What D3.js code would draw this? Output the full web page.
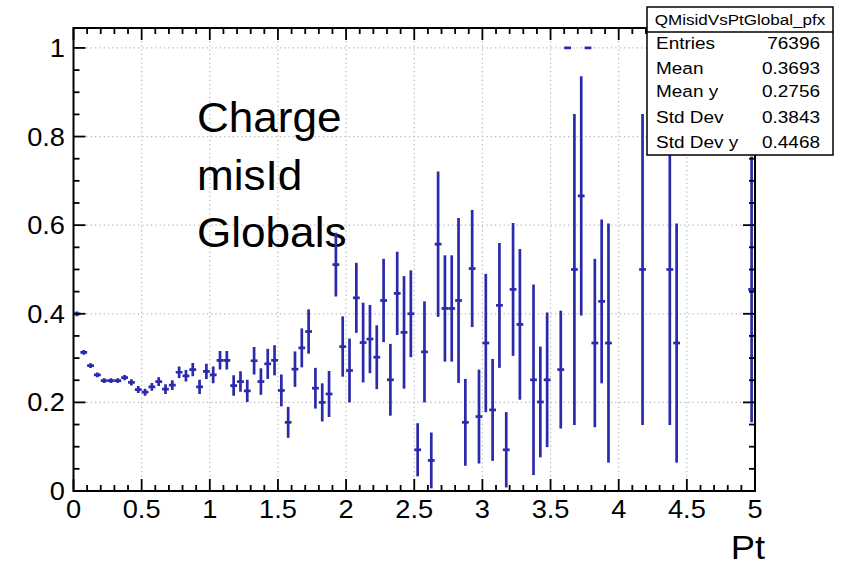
<!DOCTYPE html>
<html><head><meta charset="utf-8">
<script src="https://cdn.jsdelivr.net/npm/d3@7"></script>
<style>html,body{margin:0;padding:0;background:#fff;}svg{display:block;}</style>
</head><body>
<script>
// ---- data ----
const binCenters = [0.025,0.075,0.125,0.175,0.225,0.275,0.325,0.375,0.425,0.475,0.525,0.575,0.625,0.675,0.725,0.775,0.825,0.875,0.925,0.975,
1.025,1.075,1.125,1.175,1.225,1.275,1.325,1.375,1.425,1.475,1.525,1.575,1.625,1.675,1.725,1.775,1.825,1.875,1.925,1.975,
2.025,2.075,2.125,2.175,2.225,2.275,2.325,2.375,2.425,2.475,2.525,2.575,2.625,2.675,2.725,2.775,2.825,2.875,2.925,2.975,
3.025,3.075,3.125,3.175,3.225,3.275,3.375,3.425,3.475,3.575,3.625,3.675,3.725,3.775,3.825,3.875,3.925,4.175,4.375,4.425,4.975];
const meanValues = [0.400,0.313,0.283,0.262,0.249,0.249,0.249,0.256,0.245,0.229,0.223,0.235,0.247,0.230,0.239,0.268,0.260,0.274,0.235,0.270,
0.262,0.295,0.295,0.238,0.247,0.226,0.294,0.247,0.287,0.295,0.227,0.155,0.275,0.323,0.360,0.232,0.200,0.219,0.511,0.326,
0.272,0.436,0.335,0.343,0.302,0.430,0.251,0.446,0.358,0.400,0.093,0.314,0.069,0.557,0.412,0.412,0.430,0.155,0.502,0.168,
0.334,0.183,0.419,0.093,0.455,0.376,0.251,0.201,0.251,0.274,1.000,0.500,0.666,1.000,0.334,0.428,0.334,0.500,0.500,0.334,0.455];
const errValues = [0.003,0.004,0.004,0.005,0.005,0.005,0.005,0.006,0.007,0.008,0.008,0.009,0.010,0.011,0.011,0.013,0.013,0.015,0.016,0.017,
0.019,0.021,0.021,0.023,0.023,0.025,0.031,0.030,0.034,0.034,0.036,0.035,0.040,0.044,0.050,0.046,0.043,0.052,0.072,0.068,
0.072,0.079,0.090,0.077,0.072,0.094,0.081,0.094,0.127,0.098,0.060,0.114,0.063,0.164,0.120,0.120,0.186,0.098,0.132,0.106,
0.156,0.115,0.141,0.085,0.150,0.170,0.215,0.125,0.152,0.133,0,0.351,0.270,0,0.190,0.185,0.270,0.351,0.351,0.270,0.300];
const binHalfWidth = 0.025;
const xTickValues = [0,0.5,1,1.5,2,2.5,3,3.5,4,4.5,5];
const xTickLabels = ["0","0.5","1","1.5","2","2.5","3","3.5","4","4.5","5"];
const yTickValues = [0,0.2,0.4,0.6,0.8,1];
const yTickLabels = ["0","0.2","0.4","0.6","0.8","1"];
const xMinorStep = 0.1, yMinorStep = 0.05;
const statsTitle = "QMisidVsPtGlobal_pfx";
const statsNames = ["Entries","Mean","Mean y","Std Dev","Std Dev y"];
const statsVals = ["76396","0.3693","0.2756","0.3843","0.4468"];
const noteLines = ["Charge","misId","Globals"];
const xTitle = "Pt";

// ---- layout ----
const W = 843, H = 567;
const L = 73.5, R = 755, T = 28, B = 491;
const blue = "#2a2aaa";
const svg = d3.select("body").append("svg").attr("width", W).attr("height", H);
svg.append("rect").attr("width", W).attr("height", H).attr("fill", "#fff");

const x = d3.scaleLinear().domain([0,5]).range([L,R]);
const y = d3.scaleLinear().domain([0,1.045]).range([B,T]);

function txt(g, px, py, s, size, anchor, sx, family) {
  const gg = g.append("g").attr("transform", `translate(${px},${py}) scale(${sx},1)`);
  return gg.append("text").text(s).attr("font-family", family || "Liberation Sans, Arial, Helvetica, sans-serif")
    .attr("font-size", size).attr("text-anchor", anchor).attr("fill", "#000");
}

// grid
const grid = svg.append("g");
xTickValues.filter(v => v > 0 && v < 5).forEach(v => {
  grid.append("line").attr("x1", x(v)).attr("x2", x(v)).attr("y1", T).attr("y2", B)
    .attr("stroke", "#b8b8b8").attr("stroke-width", 1.2).attr("stroke-dasharray", "1.3,3");
});
yTickValues.filter(v => v > 0).forEach(v => {
  grid.append("line").attr("x1", L).attr("x2", R).attr("y1", y(v)).attr("y2", y(v))
    .attr("stroke", "#b8b8b8").attr("stroke-width", 1.2).attr("stroke-dasharray", "1.3,3");
});

// note text
const note = svg.append("g");
noteLines.forEach((s, i) => txt(note, 197, 132 + i * 57.5, s, 42, "start", 1.05, "Liberation Sans, Arial, sans-serif"));

// data
const clipId = "plotclip";
svg.append("clipPath").attr("id", clipId).append("rect").attr("x", L).attr("y", T).attr("width", R - L).attr("height", B - T);
const pts = svg.append("g").attr("clip-path", `url(#${clipId})`);
const data = binCenters.map((c, i) => ({c, m: meanValues[i], e: errValues[i]}));
pts.selectAll("line.v").data(data.filter(d => d.e > 0)).join("line").attr("class", "v")
  .attr("x1", d => x(d.c)).attr("x2", d => x(d.c))
  .attr("y1", d => Math.max(y(d.m - d.e), y(d.m) + 2.4)).attr("y2", d => Math.min(y(d.m + d.e), y(d.m) - 2.4))
  .attr("stroke", blue).attr("stroke-width", 2.7);
pts.selectAll("line.h").data(data).join("line").attr("class", "h")
  .attr("x1", d => x(d.c - binHalfWidth)).attr("x2", d => x(d.c + binHalfWidth))
  .attr("y1", d => y(d.m)).attr("y2", d => y(d.m))
  .attr("stroke", blue).attr("stroke-width", 2.7);

// frame + ticks
const ax = svg.append("g").attr("stroke", "#000");
ax.append("rect").attr("x", L).attr("y", T).attr("width", R - L).attr("height", B - T)
  .attr("fill", "none").attr("stroke-width", 2);
const xMinor = d3.range(0, 5 + 1e-9, xMinorStep);
xMinor.forEach(v => {
  const major = xTickValues.some(t => Math.abs(t - v) < 1e-6);
  const len = major ? 12 : 6;
  ax.append("line").attr("x1", x(v)).attr("x2", x(v)).attr("y1", B).attr("y2", B - len).attr("stroke-width", 1.8);
  ax.append("line").attr("x1", x(v)).attr("x2", x(v)).attr("y1", T).attr("y2", T + len).attr("stroke-width", 1.8);
});
const yMinor = d3.range(0, 1.045, yMinorStep);
yMinor.forEach(v => {
  const major = yTickValues.some(t => Math.abs(t - v) < 1e-6);
  const len = major ? 12 : 6;
  ax.append("line").attr("x1", L).attr("x2", L + len).attr("y1", y(v)).attr("y2", y(v)).attr("stroke-width", 1.8);
  ax.append("line").attr("x1", R).attr("x2", R - len).attr("y1", y(v)).attr("y2", y(v)).attr("stroke-width", 1.8);
});

// tick labels
const lab = svg.append("g");
xTickValues.forEach((v, i) => txt(lab, x(v), 518, xTickLabels[i], 25, "middle", 1.09));
yTickValues.forEach((v, i) => txt(lab, 65, y(v) + 9, yTickLabels[i], 25, "end", 1.09));
txt(lab, R + 10, 559, xTitle, 33, "end", 1.1);

// stats box
const st = svg.append("g");
st.append("rect").attr("x", 647).attr("y", 7).attr("width", 186).attr("height", 148)
  .attr("fill", "#fff").attr("stroke", "#000").attr("stroke-width", 1.5);
st.append("line").attr("x1", 647).attr("x2", 833).attr("y1", 32).attr("y2", 32).attr("stroke", "#000").attr("stroke-width", 1.5);
txt(st, 740, 25, statsTitle, 15.5, "middle", 1.1);
const rowY = [49, 74, 97, 123, 148];
statsNames.forEach((n, i) => {
  txt(st, 656, rowY[i], n, 16.5, "start", 1.15);
  txt(st, 820, rowY[i], statsVals[i], 16.5, "end", 1.15);
});
</script>
</body></html>
